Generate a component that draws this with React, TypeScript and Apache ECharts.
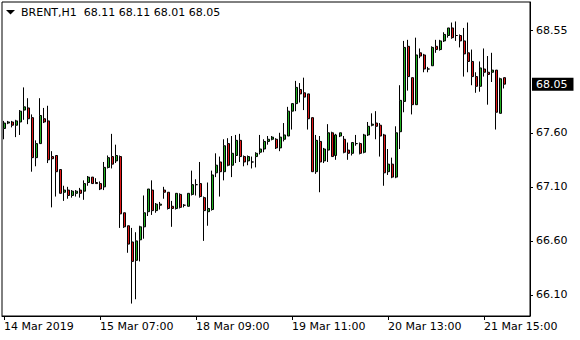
import React, { useEffect, useRef } from "react";
import * as echarts from "echarts";

const symbolName = "BRENT,H1";

const openPrices = [
  67.64, 67.69, 67.70, 67.67, 67.70, 67.81, 67.83, 67.74, 67.37, 67.50,
  67.73, 67.71, 67.38, 67.39, 67.26, 67.05, 67.07, 67.02, 67.04, 67.07,
  67.06, 67.14, 67.19, 67.14, 67.13, 67.10, 67.28, 67.38, 67.34, 67.38,
  66.86, 66.74, 66.59, 66.42, 66.61, 66.73, 66.87, 67.07, 66.88, 66.93,
  67.07, 67.05, 66.92, 66.90, 67.03, 66.93, 66.92, 67.03, 67.12, 67.13,
  67.00, 66.87, 66.89, 67.23, 67.33, 67.24, 67.50, 67.30, 67.39, 67.53,
  67.38, 67.34, 67.33, 67.38, 67.42, 67.45, 67.52, 67.54, 67.54, 67.46,
  67.54, 67.57, 67.80, 67.87, 68.00, 67.97, 67.96, 67.74, 67.24, 67.52,
  67.34, 67.44, 67.60, 67.39, 67.57, 67.54, 67.44, 67.41, 67.50, 67.50,
  67.42, 67.58, 67.67, 67.69, 67.67, 67.58, 67.24, 67.31, 67.19, 67.61,
  67.89, 68.40, 68.11, 67.86, 68.34, 68.32, 68.19, 68.22, 68.40, 68.37,
  68.45, 68.50, 68.57, 68.50, 68.50, 68.45, 68.34, 68.26, 68.12, 68.03,
  68.19, 68.16, 68.16, 68.18, 67.78, 68.11,
];
const highPrices = [
  67.71, 67.71, 67.71, 67.72, 67.81, 68.02, 67.92, 67.77, 67.53, 67.92,
  67.83, 67.85, 67.43, 67.39, 67.26, 67.11, 67.10, 67.07, 67.07, 67.09,
  67.16, 67.20, 67.19, 67.18, 67.15, 67.33, 67.39, 67.59, 67.49, 67.39,
  66.86, 66.74, 66.72, 66.68, 66.74, 67.02, 67.08, 67.16, 66.95, 66.96,
  67.10, 67.05, 66.97, 67.04, 67.04, 66.94, 67.04, 67.25, 67.17, 67.33,
  67.01, 67.14, 67.25, 67.41, 67.38, 67.54, 67.55, 67.57, 67.58, 67.59,
  67.39, 67.39, 67.38, 67.42, 67.58, 67.54, 67.57, 67.57, 67.55, 67.60,
  67.69, 67.84, 67.87, 68.08, 68.06, 68.11, 67.96, 67.74, 67.58, 67.57,
  67.46, 67.68, 67.61, 67.59, 67.60, 67.57, 67.51, 67.51, 67.58, 67.51,
  67.59, 67.70, 67.78, 67.80, 67.69, 67.59, 67.45, 67.37, 67.66, 68.04,
  68.45, 68.46, 68.11, 68.48, 68.38, 68.33, 68.21, 68.40, 68.46, 68.46,
  68.53, 68.57, 68.62, 68.63, 68.51, 68.57, 68.62, 68.37, 68.16, 68.26,
  68.38, 68.31, 68.34, 68.18, 68.11, 68.11,
];
const lowPrices = [
  67.54, 67.68, 67.65, 67.56, 67.58, 67.72, 67.68, 67.24, 67.29, 67.50,
  67.69, 67.32, 66.91, 67.01, 67.04, 66.97, 66.99, 67.00, 67.01, 67.00,
  66.98, 67.11, 67.13, 67.13, 67.07, 67.07, 67.27, 67.27, 67.32, 66.72,
  66.72, 66.49, 66.02, 66.06, 66.41, 66.62, 66.83, 66.84, 66.86, 66.89,
  66.99, 66.89, 66.73, 66.89, 66.90, 66.91, 66.92, 67.02, 67.02, 67.00,
  66.60, 66.74, 66.88, 67.19, 67.01, 67.16, 67.29, 67.19, 67.32, 67.33,
  67.29, 67.30, 67.27, 67.28, 67.40, 67.42, 67.49, 67.53, 67.45, 67.43,
  67.52, 67.57, 67.63, 67.80, 67.88, 67.81, 67.63, 67.24, 67.22, 67.05,
  67.32, 67.33, 67.38, 67.35, 67.56, 67.41, 67.35, 67.39, 67.48, 67.40,
  67.41, 67.57, 67.66, 67.54, 67.38, 67.11, 67.21, 67.18, 67.18, 67.45,
  67.79, 67.99, 67.77, 67.86, 68.29, 68.16, 68.16, 68.22, 68.34, 68.36,
  68.44, 68.48, 68.47, 68.45, 68.39, 68.12, 68.16, 68.04, 67.97, 67.98,
  68.12, 67.86, 68.07, 67.63, 67.78, 68.01,
];
const closePrices = [
  67.69, 67.70, 67.67, 67.71, 67.80, 67.84, 67.73, 67.37, 67.50, 67.76,
  67.70, 67.35, 67.36, 67.24, 67.04, 67.07, 67.02, 67.06, 67.06, 67.04,
  67.13, 67.19, 67.13, 67.13, 67.08, 67.28, 67.37, 67.31, 67.39, 66.85,
  66.73, 66.57, 66.41, 66.60, 66.73, 66.86, 67.08, 66.88, 66.94, 66.94,
  67.05, 66.90, 66.90, 67.04, 66.91, 66.93, 67.04, 67.12, 67.12, 67.01,
  66.88, 66.90, 67.21, 67.30, 67.24, 67.48, 67.30, 67.41, 67.53, 67.38,
  67.33, 67.38, 67.33, 67.41, 67.45, 67.52, 67.54, 67.56, 67.46, 67.56,
  67.58, 67.80, 67.87, 68.02, 67.96, 67.93, 67.73, 67.24, 67.53, 67.33,
  67.45, 67.60, 67.38, 67.58, 67.60, 67.42, 67.41, 67.51, 67.50, 67.41,
  67.58, 67.66, 67.68, 67.66, 67.57, 67.23, 67.31, 67.19, 67.60, 67.90,
  68.39, 68.12, 67.86, 68.32, 68.31, 68.19, 68.19, 68.39, 68.37, 68.45,
  68.51, 68.57, 68.48, 68.50, 68.45, 68.33, 68.26, 68.12, 68.03, 68.20,
  68.16, 68.14, 68.18, 67.79, 68.10, 68.05,
];

const emptyBarsRight = 6;
const xTickIndex = [0, 24, 48, 72, 96, 120];
const xTickLabels = [
  "14 Mar 2019",
  "15 Mar 07:00",
  "18 Mar 09:00",
  "19 Mar 11:00",
  "20 Mar 13:00",
  "21 Mar 15:00",
];
const yTickValues = [66.1, 66.6, 67.1, 67.6, 68.55];
const yMin = 65.905;
const yMax = 68.81;

const FONT = "DejaVu Sans";
const UP_COLOR = "#22b022";
const DOWN_COLOR = "#e01818";

export default function App() {
  const ref = useRef<HTMLDivElement>(null);

  useEffect(() => {
    if (!ref.current) return;
    const chart = echarts.init(ref.current, null, { renderer: "svg" });
    const n = openPrices.length;
    const categories = Array.from({ length: n + emptyBarsRight }, (_, i) => String(i));
    const data = openPrices.map((o, i) => [o, closePrices[i], lowPrices[i], highPrices[i]]);
    const last = n - 1;
    const lastClose = closePrices[last];
    const header =
      symbolName +
      "  " +
      [openPrices[last], highPrices[last], lowPrices[last], closePrices[last]]
        .map((v) => v.toFixed(2))
        .join(" ");
    const showIdx = (idx: number) => xTickIndex.includes(idx);

    chart.setOption({
      animation: false,
      backgroundColor: "#ffffff",
      grid: {
        left: 2,
        right: 50,
        top: 2,
        bottom: 24,
        show: true,
        borderColor: "#000",
        borderWidth: 1,
        backgroundColor: "#ffffff",
      },
      graphic: [
        {
          type: "polygon",
          shape: { points: [[6, 10], [15, 10], [10.5, 14.5]] },
          style: { fill: "#000" },
        },
        {
          type: "text",
          x: 21,
          y: 12,
          style: {
            text: header,
            fill: "#000",
            font: `11px "${FONT}"`,
            textVerticalAlign: "middle",
          },
        },
      ],
      xAxis: {
        type: "category",
        data: categories,
        boundaryGap: true,
        axisLine: { show: true, lineStyle: { color: "#000", width: 1 } },
        axisTick: {
          show: true,
          alignWithLabel: true,
          length: 4,
          interval: (idx: number) => showIdx(idx),
          lineStyle: { color: "#000" },
        },
        axisLabel: {
          interval: (idx: number) => showIdx(idx),
          formatter: (_v: string, idx: number) => {
            const k = xTickIndex.indexOf(idx);
            return k >= 0 ? xTickLabels[k] : "";
          },
          align: "left",
          color: "#000",
          fontFamily: FONT,
          fontSize: 11,
          margin: 5,
        },
        splitLine: { show: false },
      },
      yAxis: {
        type: "value",
        position: "right",
        min: yMin,
        max: yMax,
        axisLine: { show: true, lineStyle: { color: "#000", width: 1 } },
        axisTick: {
          show: true,
          length: 3,
          customValues: yTickValues,
          lineStyle: { color: "#000" },
        },
        axisLabel: {
          customValues: yTickValues,
          formatter: (v: number) => v.toFixed(2),
          color: "#000",
          fontFamily: FONT,
          fontSize: 11,
          margin: 6,
        },
        splitLine: { show: false },
      },
      series: [
        {
          type: "candlestick",
          data,
          barWidth: 2.5,
          itemStyle: {
            color: UP_COLOR,
            color0: DOWN_COLOR,
            borderColor: "#000",
            borderColor0: "#000",
            borderColorDoji: "#000",
            borderWidth: 1,
          },
          markLine: {
            silent: true,
            symbol: ["none", "none"],
            lineStyle: { width: 0, color: "transparent" },
            data: [{ yAxis: lastClose }],
            label: {
              show: true,
              position: "end",
              distance: 2,
              formatter: () => lastClose.toFixed(2),
              color: "#fff",
              backgroundColor: "#000",
              padding: [1, 6, 0, 4],
              lineHeight: 12,
              fontFamily: FONT,
              fontSize: 11,
            },
          },
        },
      ],
    });

    return () => chart.dispose();
  }, []);

  return (
    <div
      ref={ref}
      style={{ position: "fixed", left: 0, top: 0, width: 580, height: 340 }}
    />
  );
}
